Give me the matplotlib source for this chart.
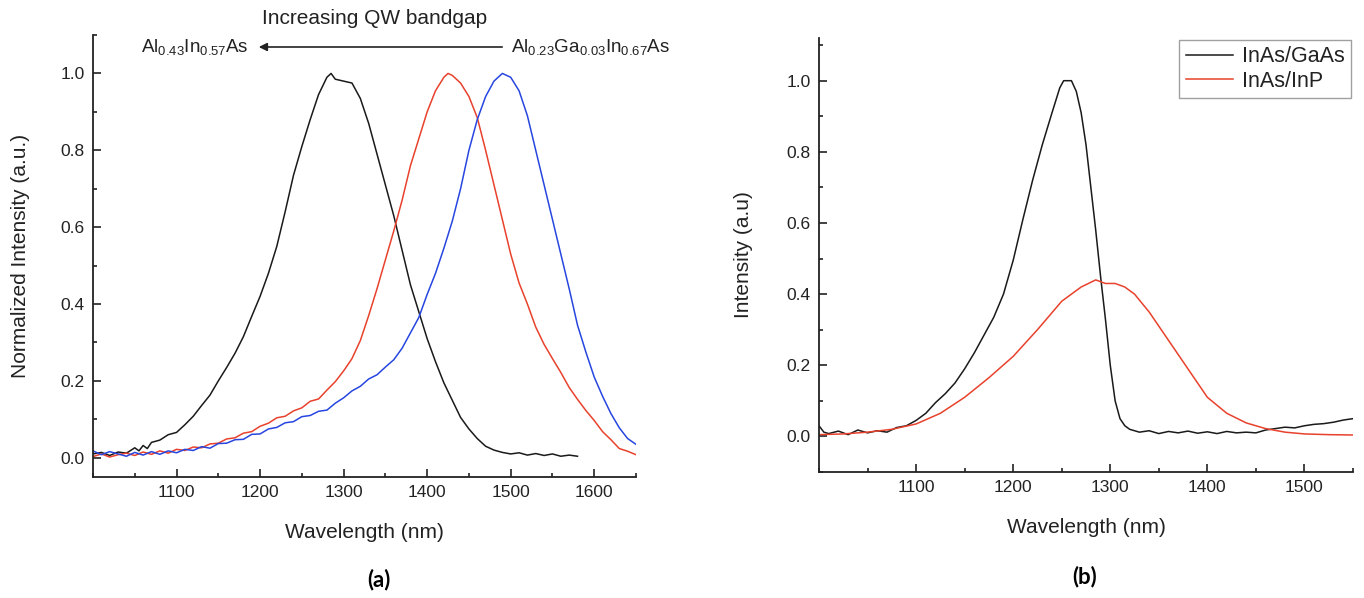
import numpy as np
import matplotlib
matplotlib.use('Agg')
import matplotlib.pyplot as plt
from matplotlib.ticker import MultipleLocator

plt.rcParams['font.family'] = ['Liberation Sans', 'DejaVu Sans']
plt.rcParams['mathtext.default'] = 'regular'

#panel (a) spectra
waveBlackA = [1000,1010,1020,1030,1040,1050,1055,1060,1065,1070,1080,1090,1100,1110,1120,1130,1140,1150,1160,1170,1180,1190,
              1200,1210,1220,1230,1240,1250,1260,1270,1280,1285,1290,1300,1310,1320,1330,1340,1350,1360,1370,1380,
              1390,1400,1410,1420,1430,1440,1450,1460,1470,1480,1490,1500,1510,1520,1530,1540,1550,1560,1570,1580]
intBlackA = [0.010,0.014,0.006,0.015,0.012,0.026,0.018,0.032,0.024,0.040,0.046,0.060,0.066,0.086,0.108,0.136,0.163,0.200,0.235,0.272,0.315,0.368,
             0.420,0.480,0.550,0.640,0.735,0.810,0.880,0.945,0.990,1.000,0.985,0.980,0.975,0.935,0.870,0.790,0.710,0.630,0.540,0.450,
             0.380,0.310,0.250,0.195,0.150,0.105,0.075,0.050,0.030,0.020,0.014,0.010,0.013,0.007,0.011,0.006,0.010,0.004,0.007,0.004]

waveRedA = [1000,1010,1020,1030,1040,1050,1060,1070,1080,1090,1100,1110,1120,1130,1140,1150,1160,1170,1180,1190,
            1200,1210,1220,1230,1240,1250,1260,1270,1280,1290,1300,1310,1320,1330,1340,1350,1360,1370,1380,1390,
            1400,1410,1420,1425,1430,1440,1450,1460,1470,1480,1490,1500,1510,1520,1530,1540,1550,1560,1570,1580,
            1590,1600,1610,1620,1630,1640,1650]
intRedA = [0.003,0.010,0.002,0.008,0.012,0.006,0.015,0.009,0.018,0.012,0.022,0.019,0.028,0.026,0.036,0.038,0.049,0.052,0.064,0.068,
           0.082,0.090,0.104,0.108,0.122,0.130,0.147,0.153,0.176,0.198,0.226,0.258,0.305,0.370,0.440,0.515,0.590,0.670,0.760,0.830,
           0.900,0.955,0.990,1.000,0.995,0.975,0.940,0.885,0.800,0.710,0.620,0.530,0.455,0.400,0.340,0.295,0.258,0.222,0.183,0.152,
           0.123,0.097,0.068,0.047,0.024,0.017,0.008]

waveBlueA = [1000,1010,1020,1030,1040,1050,1060,1070,1080,1090,1100,1110,1120,1130,1140,1150,1160,1170,1180,1190,
             1200,1210,1220,1230,1240,1250,1260,1270,1280,1290,1300,1310,1320,1330,1340,1350,1360,1370,1380,1390,
             1400,1410,1420,1430,1440,1450,1460,1470,1480,1490,1500,1510,1520,1530,1540,1550,1560,1570,1580,1590,
             1600,1610,1620,1630,1640,1650]
intBlueA = [0.018,0.008,0.016,0.010,0.004,0.014,0.007,0.016,0.009,0.018,0.013,0.022,0.019,0.029,0.025,0.037,0.038,0.047,0.048,0.061,
            0.062,0.075,0.079,0.091,0.094,0.107,0.110,0.121,0.124,0.142,0.156,0.174,0.186,0.205,0.216,0.236,0.255,0.285,0.325,0.365,
            0.425,0.480,0.545,0.615,0.700,0.800,0.880,0.940,0.980,1.000,0.990,0.955,0.890,0.800,0.710,0.620,0.530,0.440,0.345,0.275,
            0.210,0.160,0.115,0.078,0.050,0.035]

#panel (b) spectra
waveGaAs = [1000,1005,1010,1020,1030,1040,1050,1060,1070,1080,1090,1100,1110,1120,1130,1140,1150,1160,1170,1180,
            1190,1200,1210,1220,1230,1240,1248,1252,1260,1265,1270,1275,1280,1285,1290,1295,1300,1305,1310,1315,
            1320,1330,1340,1350,1360,1370,1380,1390,1400,1410,1420,1430,1440,1450,1460,1470,1480,1490,1500,1510,
            1520,1530,1540,1550]
intGaAs = [0.030,0.012,0.008,0.015,0.005,0.018,0.010,0.016,0.012,0.025,0.030,0.045,0.065,0.095,0.120,0.150,0.190,0.235,0.285,0.335,
           0.400,0.495,0.610,0.720,0.820,0.910,0.980,1.000,1.000,0.970,0.910,0.820,0.700,0.580,0.450,0.330,0.200,0.100,0.050,0.030,
           0.020,0.012,0.016,0.008,0.014,0.010,0.015,0.009,0.013,0.008,0.014,0.010,0.012,0.010,0.018,0.022,0.026,0.024,0.030,0.034,
           0.036,0.040,0.046,0.050]

waveInP = [1000,1025,1050,1075,1100,1125,1150,1175,1200,1225,1250,1270,1285,1295,1305,1315,1325,1340,1350,1360,
           1375,1390,1400,1420,1440,1460,1480,1500,1525,1550]
intInP = [0.005,0.007,0.012,0.020,0.035,0.065,0.110,0.165,0.225,0.300,0.380,0.420,0.440,0.430,0.430,0.420,0.400,0.350,0.310,0.270,
          0.210,0.150,0.110,0.065,0.038,0.022,0.012,0.007,0.005,0.004]

legendNames = ['InAs/GaAs', 'InAs/InP']

black = '#1a1a1a'
red = '#e8412c'
blue = '#2746e0'
textColour = '#222222'


def styleAxis(ax, xMax, yMin, yMax):
    ax.set_xlim(1000, xMax)
    ax.set_ylim(yMin, yMax)
    ax.spines['top'].set_visible(False)
    ax.spines['right'].set_visible(False)
    ax.xaxis.set_minor_locator(MultipleLocator(50))
    ax.yaxis.set_minor_locator(MultipleLocator(0.1))
    ax.set_xticks([t for t in range(1100, xMax, 100)])
    ax.set_yticks([0.0, 0.2, 0.4, 0.6, 0.8, 1.0])
    ax.tick_params(which='major', direction='in', length=5.5, width=1.2, labelsize=12.5, colors=textColour, pad=6)
    ax.tick_params(which='minor', direction='in', length=3, width=1.2, colors=textColour)
    for s in ['left', 'bottom']:
        ax.spines[s].set_linewidth(1.3)
        ax.spines[s].set_color(textColour)
    ax.set_xlabel('Wavelength (nm)', fontsize=15, color=textColour, labelpad=16)


fig = plt.figure(figsize=(13.64, 5.98), dpi=100)
W, H = 1364.0, 598.0

#panel (a)
axA = fig.add_axes([93/W, 1-477/H, 543/W, 442/H])
axA.plot(waveBlackA, intBlackA, color=black, lw=1.1)
axA.plot(waveRedA, intRedA, color=red, lw=1.1)
axA.plot(waveBlueA, intBlueA, color=blue, lw=1.1)
styleAxis(axA, 1650, -0.05, 1.1)
axA.set_ylabel('Normalized Intensity (a.u.)', fontsize=15, color=textColour, labelpad=22)

fig.text(375/W, 1-18/H, 'Increasing QW bandgap', fontsize=15, color=textColour, ha='center', va='center')
fig.text(249/W, 1-47/H, r'Al$_{0.43}$In$_{0.57}$As', fontsize=13.5, color=textColour, ha='right', va='center')
fig.text(511/W, 1-47/H, r'Al$_{0.23}$Ga$_{0.03}$In$_{0.67}$As', fontsize=13.5, color=textColour, ha='left', va='center')
fig.patches.append(matplotlib.patches.FancyArrowPatch((505/W, 1-47/H), (256/W, 1-47/H), transform=fig.transFigure,
                                                      arrowstyle='-|>', mutation_scale=12, color=textColour, lw=1.2))
fig.text(379/W, 1-580/H, '(a)', fontsize=16, fontweight='bold', family=['Lato', 'DejaVu Sans'], ha='center', va='center')

#panel (b)
axB = fig.add_axes([819/W, 1-472/H, 534/W, 434/H])
axB.plot(waveGaAs, intGaAs, color=black, lw=1.1, label=legendNames[0])
axB.plot(waveInP, intInP, color=red, lw=1.1, label=legendNames[1])
styleAxis(axB, 1550, -0.1, 1.12)
axB.set_ylabel('Intensity (a.u)', fontsize=15, color=textColour, labelpad=24)
leg = axB.legend(loc='upper right', bbox_to_anchor=(1351/W, 1-40/H), bbox_transform=fig.transFigure,
                 fontsize=15.5, frameon=True, fancybox=False, handlelength=2.2, handletextpad=0.4,
                 borderpad=0.3, labelspacing=0.15, borderaxespad=0)
leg.get_frame().set_edgecolor('#888888')
leg.get_frame().set_linewidth(1.0)
for t in leg.get_texts():
    t.set_color(textColour)
fig.text(1085/W, 1-577/H, '(b)', fontsize=16, fontweight='bold', family=['Lato', 'DejaVu Sans'], ha='center', va='center')

fig.savefig('out.png', dpi=100)
